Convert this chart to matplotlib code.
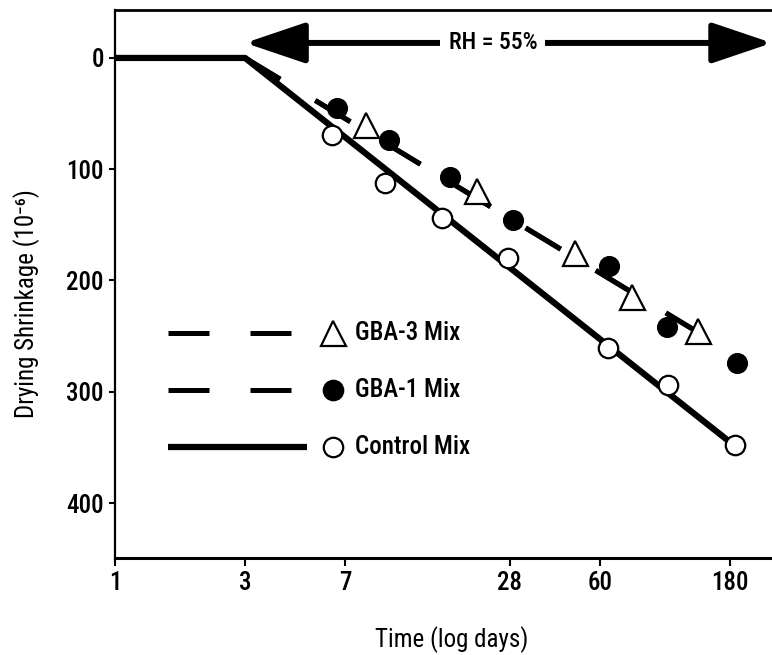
import matplotlib
matplotlib.use("Agg")
import matplotlib.pyplot as plt
from matplotlib import font_manager
from matplotlib.ticker import NullLocator, FixedLocator, FixedFormatter

available = {f.name for f in font_manager.fontManager.ttflist}
fams = [f for f in ['Liberation Sans Narrow', 'DejaVu Sans Condensed', 'Roboto Condensed',
                    'Liberation Sans'] if f in available] + ['DejaVu Sans']
plt.rcParams['font.family'] = fams
plt.rcParams['font.weight'] = 'medium'
narrow = fams[0] in ('Liberation Sans Narrow', 'DejaVu Sans Condensed', 'Roboto Condensed')
FS = 18 if narrow else 16

# ---------------- data ----------------
x_ticks = [1, 3, 7, 28, 60, 180]
x_tick_labels = ["1", "3", "7", "28", "60", "180"]
y_ticks = [0, 100, 200, 300, 400]
y_tick_labels = ["0", "100", "200", "300", "400"]

control_days = [6.25, 9.8, 15.8, 27.6, 64, 107, 188]
control_vals = [69, 112, 144, 180, 261, 294, 348]

gba1_days = [6.5, 10.1, 16.9, 28.8, 65, 106, 191]
gba1_vals = [45, 74, 107, 146, 187, 242, 274]

gba3_days = [8.3, 21.3, 48.6, 78.7, 137]
gba3_vals = [60, 120, 175, 215, 245]

control_fit_days = [1, 3, 195]
control_fit_vals = [0, 0, 352]
gba1_fit_days = [3, 134]
gba1_fit_vals = [0, 245]
gba3_fit_days = [3, 134]
gba3_fit_vals = [0, 245]

rh_start_day = 3
rh_end_day = 256.6
rh_level = -13.5
rh_text_day = 24.3
rh_label = "RH = 55%"

legend_labels = ["GBA-3 Mix", "GBA-1 Mix", "Control Mix"]

# ---------------- figure ----------------
fig = plt.figure(figsize=(7.72, 6.55), dpi=100)
ax = fig.add_axes([115 / 772, 97 / 655, 657 / 772, 548 / 655])

ax.set_xscale('log')
ax.set_xlim(1, 256.6)
ax.set_ylim(449.4, -43.1)

dash = (0, (8.2, 8.2))
ax.plot(control_fit_days, control_fit_vals, color='black', lw=4.5,
        solid_capstyle='butt', zorder=2)
ax.plot(gba3_fit_days, gba3_fit_vals, color='black', lw=3.6, linestyle=dash, zorder=2)
ax.plot(gba1_fit_days, gba1_fit_vals, color='black', lw=3.6, linestyle=dash, zorder=2)

ax.plot(control_days, control_vals, linestyle='none', marker='o', markersize=14,
        markerfacecolor='white', markeredgecolor='black', markeredgewidth=1.6, zorder=4)
ax.plot(gba1_days, gba1_vals, linestyle='none', marker='o', markersize=14,
        markerfacecolor='black', markeredgecolor='black', markeredgewidth=1.2, zorder=4)
ax.plot(gba3_days, gba3_vals, linestyle='none', marker='^', markersize=18,
        markerfacecolor='white', markeredgecolor='black', markeredgewidth=1.6, zorder=4)

# RH arrow
ax.annotate('', xy=(rh_start_day, rh_level), xytext=(rh_end_day, rh_level),
            arrowprops=dict(arrowstyle='<|-|>,head_length=37,head_width=12.5',
                            mutation_scale=1, lw=4.3, color='black',
                            shrinkA=0, shrinkB=0), annotation_clip=False, zorder=3)
ax.text(rh_text_day, rh_level, rh_label, fontsize=FS - 1, ha='center', va='center',
        bbox=dict(boxstyle='square,pad=0.35', facecolor='white', edgecolor='none'),
        zorder=5)

# manual legend (axes fraction coordinates)
rows_y = [0.4106, 0.3066, 0.2026]
line_x0, line_x1 = 0.0807, 0.2709
marker_x = 0.3318
text_x = 0.3653
styles = [dict(marker='^', markersize=18, markerfacecolor='white'),
          dict(marker='o', markersize=14, markerfacecolor='black'),
          dict(marker='o', markersize=14, markerfacecolor='white')]
for i, (yy, lab, st) in enumerate(zip(rows_y, legend_labels, styles)):
    if i < 2:
        ax.plot([line_x0, line_x1], [yy, yy], transform=ax.transAxes, color='black',
                lw=3.6, linestyle=dash, clip_on=False)
    else:
        ax.plot([line_x0, 0.2922], [yy, yy], transform=ax.transAxes, color='black',
                lw=4.5, solid_capstyle='butt', clip_on=False)
    ax.plot([marker_x], [yy], transform=ax.transAxes, linestyle='none',
            markeredgecolor='black', markeredgewidth=1.6, clip_on=False, **st)
    ax.text(text_x, yy, lab, transform=ax.transAxes, fontsize=FS, ha='left', va='center')

# axes styling
ax.spines['right'].set_visible(False)
ax.spines['top'].set_linewidth(2.0)
ax.spines['left'].set_linewidth(1.6)
ax.spines['bottom'].set_linewidth(2.2)

ax.xaxis.set_major_locator(FixedLocator(x_ticks))
ax.xaxis.set_major_formatter(FixedFormatter(x_tick_labels))
ax.xaxis.set_minor_locator(NullLocator())
ax.yaxis.set_major_locator(FixedLocator(y_ticks))
ax.yaxis.set_major_formatter(FixedFormatter(y_tick_labels))
ax.tick_params(axis='x', direction='out', length=6, width=1.5, pad=3, labelsize=FS)
ax.tick_params(axis='y', direction='out', length=4, width=1.5, pad=4, labelsize=FS)
ax.tick_params(top=False, right=False)

ax.set_xlabel('Time (log days)', fontsize=FS)
ax.xaxis.set_label_coords(0.513, -0.125)
ax.set_ylabel('Drying Shrinkage (10\u207b\u2076)', fontsize=FS)
ax.yaxis.set_label_coords(-0.114, 0.465)

fig.savefig('out.png', dpi=100)
